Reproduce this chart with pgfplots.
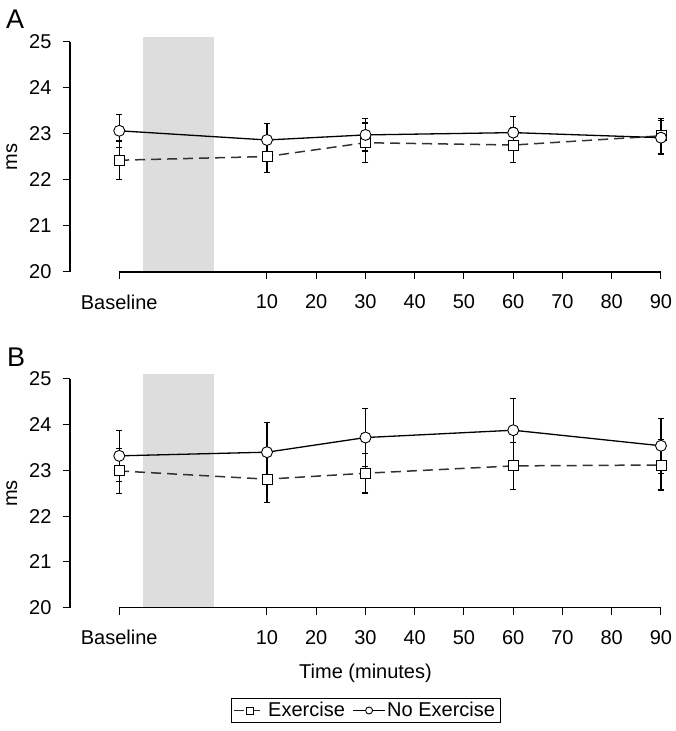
\documentclass[border=0pt]{standalone}
\usepackage{fontspec}
\setmainfont{Liberation Sans}
\usepackage{pgfplots}
\pgfplotsset{compat=1.18}

\definecolor{shade}{RGB}{221,221,221}
\definecolor{dashgray}{RGB}{50,50,50}

\pgfplotsset{
 panel/.style={
  scale only axis, width=591pt,
  xmin=-30, xmax=90, ymin=20, ymax=25,
  axis x line=bottom, axis y line=left,
  axis line style={-, line width=1.2pt},
  x axis line style={draw=none},
  clip=false,
  xtick={-20,10,20,30,40,50,60,70,80,90},
  xticklabels={Baseline,10,20,30,40,50,60,70,80,90},
  ytick={20,21,22,23,24,25},
  tick align=outside,
  major tick length=7pt,
  tick style={black, line width=1pt},
  tick label style={font=\fontsize{20}{24}\selectfont},
  /pgf/number format/assume math mode=true,
  xticklabel shift=12pt,
  yticklabel shift=8pt,
  ylabel={ms},
  ylabel style={xshift=0pt, yshift=5pt},
  label style={font=\fontsize{20}{24}\selectfont},
  legend image code/.code={\draw[mark repeat=2,mark phase=2,##1] plot coordinates {(0cm,0cm) (0.55cm,0cm) (1.1cm,0cm)};},
 },
 errs/.style={
   error bars/y dir=both, error bars/y explicit,
   error bars/error bar style={black, line width=1.3pt, solid},
   error bars/error mark options={rotate=90, mark size=3pt, line width=1.3pt, black, solid}},
 exer/.style={dashgray, line width=1.5pt, dash pattern=on 10pt off 6pt,
   mark=square*, mark size=5pt,
   mark options={solid, fill=white, draw=black, line width=0.9pt}, errs},
 noex/.style={black, line width=1.3pt,
   mark=*, mark size=5.5pt,
   mark options={solid, fill=white, draw=black, line width=0.9pt}, errs},
}

\begin{document}
\begin{tikzpicture}
\useasboundingbox (0,0) rectangle (676pt,731pt);

% Panel A
\begin{axis}[panel, height=230pt, at={(70pt,459pt)}, anchor=south west]
\addplot[fill=shade, draw=none, forget plot] coordinates {(-15.2,20) (-0.7,20) (-0.7,25.1) (-15.2,25.1)} -- cycle;
\addplot[black, line width=1.2pt, forget plot] coordinates {(-20,20) (90,20)};
\addplot[forget plot, exer] coordinates {
 (-20,22.43) +- (0,0.42)
 (10,22.51) +- (0,0.34)
 (30,22.81) +- (0,0.43)
 (60,22.76) +- (0,0.38)
 (90,22.96) +- (0,0.38)
};
\addplot[forget plot, noex] coordinates {
 (-20,23.07) +- (0,0.36)
 (10,22.87) +- (0,0.36)
 (30,22.98) +- (0,0.35)
 (60,23.03) +- (0,0.35)
 (90,22.92) +- (0,0.37)
};
\node[font=\fontsize{27}{32}\selectfont] at (rel axis cs:-0.093,1.1) {A};
\end{axis}

% Panel B
\begin{axis}[panel, height=228.7pt, at={(70pt,123.3pt)}, anchor=south west,
  xlabel={Time (minutes)},
  xlabel style={yshift=-12pt},
  legend style={at={(axis description cs:0.5,-0.4495)}, anchor=center,
    legend columns=-1, draw=black, line width=0.8pt,
    font=\fontsize{20}{24}\selectfont,
    /tikz/every even column/.append style={column sep=6pt}},
  legend image post style={mark size=3.5pt, line width=1pt}]
\addplot[fill=shade, draw=none, forget plot] coordinates {(-15.2,20) (-0.7,20) (-0.7,25.1) (-15.2,25.1)} -- cycle;
\addplot[black, line width=1.2pt, forget plot] coordinates {(-20,20) (90,20)};
\addplot[exer] coordinates {
 (-20,22.99) +- (0,0.49)
 (10,22.81) +- (0,0.51)
 (30,22.94) +- (0,0.43)
 (60,23.10) +- (0,0.51)
 (90,23.12) +- (0,0.55)
};
\addlegendentry{Exercise}
\addplot[noex] coordinates {
 (-20,23.32) +- (0,0.56)
 (10,23.40) +- (0,0.65)
 (30,23.72) +- (0,0.64)
 (60,23.88) +- (0,0.70)
 (90,23.54) +- (0,0.60)
};
\addlegendentry{No Exercise}
\node[font=\fontsize{27}{32}\selectfont] at (rel axis cs:-0.091,1.096) {B};
\end{axis}
\end{tikzpicture}
\end{document}
